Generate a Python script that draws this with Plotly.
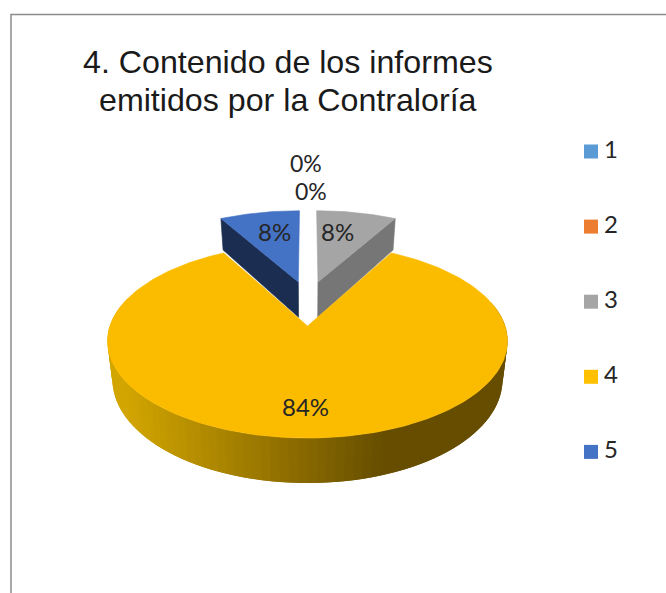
import math
import plotly.graph_objects as go

categories = ["1", "2", "3", "4", "5"]
values = [0, 0, 8, 84, 8]
top_colors = ["#5B9BD5", "#ED7D31", "#A5A5A5", "#FBBC00", "#4472C4"]
legend_colors = ["#5B9BD5", "#ED7D31", "#A5A5A5", "#FFC000", "#4472C4"]
cut_colors = ["#2E4E6E", "#7A3E18", "#767676", "#7F6000", "#1B2D50"]
title_lines = ["4. Contenido de los informes", "emitidos por la Contraloría"]

# projection of the tilted pie onto the page
CX, CY, A, B, K, DROP, SHRINK = 307.5, 326.0, 94.7, 197.6, 0.155, 38.0, 0.975
# explosion of each slice in plan coordinates
EXPLODE = {2: (0.057, 0.5), 3: (0.0, 0.0), 4: (-0.05, 0.5)}
LABEL_POS = [(306, 163), (311, 190.5), (337, 231), (305, 406), (274, 231)]
LABEL_SIZE = [23, 23, 24, 24, 24]
TEXT = "#262626"
LABEL_FONT = dict(family="Lato", size=24, color=TEXT)
TITLE_FONT = dict(family="Liberation Sans", size=32.2, color="#1A1A1A")
TITLE_Y = [62, 100]


def top(u, v):
    d = 1 + K * v
    return CX + B * u / d, CY - A * v / d


def bottom(u, v):
    x, y = top(u, v)
    return CX + (x - CX) * SHRINK, y + DROP / (1 + K * v)


def plan(theta, off):
    return off[0] + math.sin(theta), off[1] + math.cos(theta)


fig = go.Figure()


def poly(pts, color, lw=0.6):
    xs = [p[0] for p in pts] + [pts[0][0]]
    ys = [p[1] for p in pts] + [pts[0][1]]
    fig.add_trace(go.Scatter(x=xs, y=ys, mode="lines", fill="toself", fillcolor=color,
                             line=dict(color=color, width=lw), hoverinfo="skip", showlegend=False))


def side_colour(x):
    t = min(1, max(0, (x - 125) / (385 - 125)))
    c0, c1 = (210, 165, 0), (102, 77, 0)
    return "rgb(%d,%d,%d)" % tuple(round(a + (b - a) * t) for a, b in zip(c0, c1))


# slice angle ranges from the values
total = sum(values)
ranges = {}
acc = 0
for i, val in enumerate(values):
    ranges[i] = (2 * math.pi * acc / total, 2 * math.pi * (acc + val) / total)
    acc += val

# back slices: cut faces and tops
for i in (2, 4):
    a0, a1 = ranges[i]
    off = EXPLODE[i]
    edge = a1 if i == 2 else a0
    outer = plan(edge, off)
    poly([top(*off), top(*outer), bottom(*outer), bottom(*off)], cut_colors[i])
    arc = [plan(a0 + (a1 - a0) * j / 30, off) for j in range(31)]
    poly([top(*off)] + [top(*p) for p in arc], top_colors[i])

# main slice: outer wall as overlapping shaded strips, then top face
a0, a1 = ranges[3]
off = EXPLODE[3]
N = 90
lo, hi = math.radians(75), math.radians(285)
step = (hi - lo) / N
for j in range(N):
    t0 = lo + step * j
    ts = [t0 + step * m / 4 for m in range(9)]
    upper = [top(*plan(t, off)) for t in ts]
    lower = [bottom(*plan(t, off)) for t in ts]
    poly(upper + lower[::-1], side_colour(sum(p[0] for p in upper[:5]) / 5), lw=0)
arc = [plan(a0 + (a1 - a0) * j / 240, off) for j in range(241)]
poly([top(*off)] + [top(*p) for p in arc], top_colors[3])

# data labels
for i, val in enumerate(values):
    fig.add_annotation(x=LABEL_POS[i][0], y=LABEL_POS[i][1], text=f"{round(100 * val / total)}%",
                       showarrow=False, font=dict(LABEL_FONT, size=LABEL_SIZE[i]))

# title lines
for line, y in zip(title_lines, TITLE_Y):
    fig.add_annotation(x=288, y=y, text=line, showarrow=False, font=TITLE_FONT)

# legend
legend_y = [151.5 + 75.1 * i for i in range(5)]
fig.add_trace(go.Scatter(
    x=[591] * 5, y=legend_y, mode="markers",
    marker=dict(symbol="square", size=14, color=legend_colors, line=dict(width=0)),
    hoverinfo="skip", showlegend=False))
fig.add_trace(go.Scatter(
    x=[604] * 5, y=legend_y, mode="text",
    text=categories, textposition="middle right", textfont=LABEL_FONT,
    hoverinfo="skip", showlegend=False))

# frame
fig.add_shape(type="path", path="M 11 593 L 11 14.5 L 666 14.5", line=dict(color="#8C8C8C", width=1.5))

fig.update_layout(
    width=666, height=593, margin=dict(l=0, r=0, t=0, b=0),
    paper_bgcolor="white", plot_bgcolor="white", showlegend=False,
    xaxis=dict(range=[0, 666], visible=False, fixedrange=True),
    yaxis=dict(range=[593, 0], visible=False, fixedrange=True),
)
fig.write_html("out.html", config=dict(displayModeBar=False),
               post_script="document.body.style.margin='0';document.documentElement.style.overflow='hidden';")
